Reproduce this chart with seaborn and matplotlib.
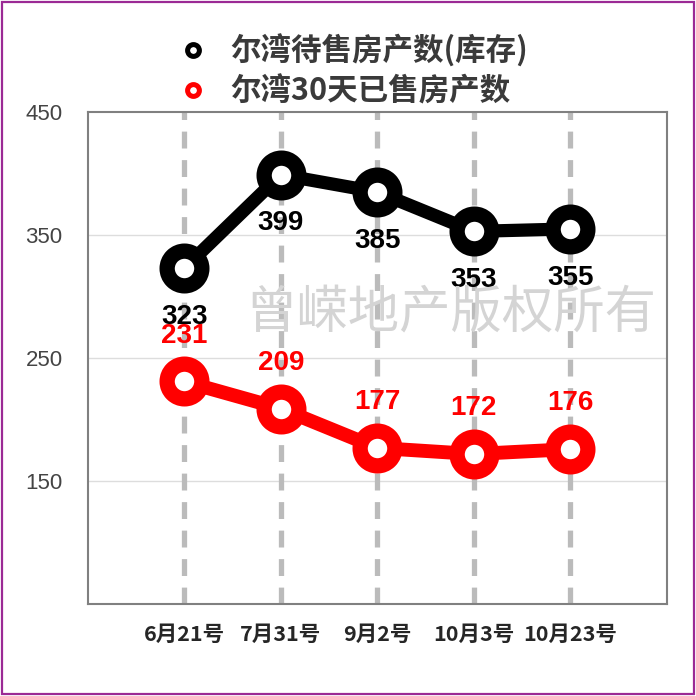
#
# 尔湾 housing inventory vs 30-day sales, line chart with seaborn
#

import numpy as np
import pandas as pd
from matplotlib import pyplot as plt
from matplotlib.lines import Line2D
from matplotlib.patches import Rectangle
import seaborn as sns

#
# Data
#

dates = ["6月21号", "7月31号", "9月2号", "10月3号", "10月23号"]
inventory = [323, 399, 385, 353, 355]
sold_30d = [231, 209, 177, 172, 176]
series_names = ["尔湾待售房产数(库存)", "尔湾30天已售房产数"]
series_colors = ["#000000", "#ff0000"]
y_ticks = [150, 250, 350, 450]
watermark = "曾嵘地产版权所有"

#
# Plotting
#

sns.set_style("white")
plt.rcParams['font.family'] = ['Liberation Sans', 'Noto Sans CJK SC', 'DejaVu Sans']

fig = plt.figure(figsize=(6.96, 6.96), dpi=100)
ax = fig.add_axes([0.126, 0.132, 0.832, 0.707])

df = pd.DataFrame({
	"x": list(range(len(dates))) * 2,
	"value": inventory + sold_30d,
	"series": [series_names[0]] * len(dates) + [series_names[1]] * len(dates),
})

# vertical dashed guide lines at each date
for i in range(len(dates)):
	ax.axvline(i, color="#bbbbbb", lw=3.8, ls=(0, (3.2, 2.2)), zorder=1)
for t in y_ticks[:-1]:
	ax.axhline(t, color="#dddddd", lw=1, zorder=0.5)

for name, col, lw in zip(series_names, series_colors, [9.5, 10]):
	sub = df[df["series"] == name]
	sns.lineplot(data=sub, x="x", y="value", ax=ax, color=col, lw=lw,
				 marker="o", markersize=25, markerfacecolor="white",
				 markeredgecolor=col, markeredgewidth=11, legend=False,
				 zorder=3)

# value labels: red above, black below (black drawn on top)
for i, v in enumerate(sold_30d):
	ax.annotate(str(v), (i, v), xytext=(0, 33), textcoords="offset points",
				ha="center", va="center", fontsize=20, fontweight="bold",
				color="#ff0000", zorder=5)
for i, v in enumerate(inventory):
	ax.annotate(str(v), (i, v), xytext=(0, -35), textcoords="offset points",
				ha="center", va="center", fontsize=20, fontweight="bold",
				color="#000000", zorder=6)

ax.set_xlim(-1, 5)
ax.set_ylim(50, 450)
ax.set_xticks(range(len(dates)))
ax.set_xticklabels(dates, fontsize=15.5, fontweight="bold",
				   family=['Noto Sans CJK SC', 'DejaVu Sans'])
ax.set_yticks(y_ticks)
ax.set_yticklabels([str(t) for t in y_ticks], fontsize=16, color="#444444")
ax.tick_params(axis="both", length=0)
ax.tick_params(axis="x", pad=14)
ax.tick_params(axis="y", pad=18)
ax.set_xlabel("")
ax.set_ylabel("")
for s in ax.spines.values():
	s.set_color("#808080")
	s.set_linewidth(1.5)

# watermark
fig.text(0.648, 0.55, watermark, fontsize=37, color="#d4d4d4",
		 ha="center", va="center", family=['Noto Sans CJK SC'], zorder=4)

# legend
handles = [Line2D([], [], ls="none", marker="o", markersize=8.5,
				  markerfacecolor="white", markeredgecolor=c,
				  markeredgewidth=3.6) for c in series_colors]
leg = fig.legend(handles, series_names, loc="upper center",
				 bbox_to_anchor=(0.505, 0.99), frameon=False,
				 labelspacing=0.25, handletextpad=0.6, handlelength=1.2,
				 prop={"family": ['Noto Sans CJK SC'], "weight": "bold", "size": 22})
for t in leg.get_texts():
	t.set_color("#3a3a3a")

# purple frame around the whole picture
fig.patches.append(Rectangle((0.003, 0.003), 0.994, 0.994, transform=fig.transFigure,
							 fill=False, ec="#9b2a95", lw=1.6))

plt.savefig("out.png", dpi=100)
